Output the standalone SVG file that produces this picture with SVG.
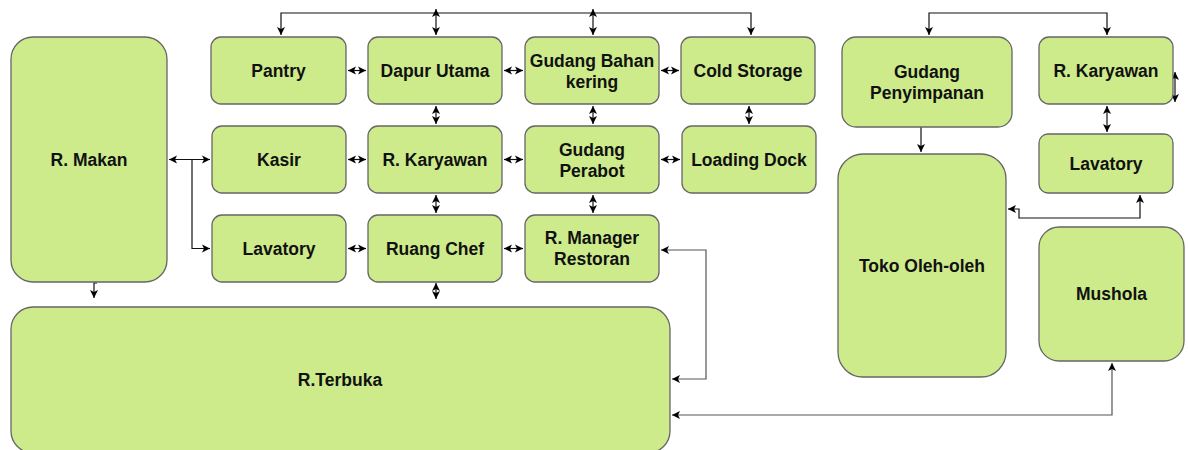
<svg xmlns="http://www.w3.org/2000/svg" width="1188" height="450" viewBox="0 0 1188 450">
<style>
.n{fill:#cdeb8b;stroke:#666;stroke-width:1.3}
.t{font-family:"Liberation Sans",Arial,sans-serif;font-weight:bold;font-size:17.5px;fill:#111;text-anchor:middle}
.c{fill:none;stroke:#111;stroke-width:1.2}
.g{fill:none;stroke:#555;stroke-width:1.2}
</style>
<defs>
<marker id="a" markerUnits="userSpaceOnUse" markerWidth="10" markerHeight="10" refX="8" refY="4" orient="auto-start-reverse" viewBox="0 0 10 8">
<path d="M0,0 L8,4 L0,8 L2,4 z" fill="#000"/>
</marker>
</defs>
<rect width="1188" height="450" fill="#fff"/>
<g id="connectors">
<path class="c" d="M281,35 V13 H751 V35" marker-start="url(#a)" marker-end="url(#a)"/>
<path class="c" d="M436,9 V35" marker-start="url(#a)" marker-end="url(#a)"/>
<path class="c" d="M593,9 V35" marker-start="url(#a)" marker-end="url(#a)"/>
<path class="c" d="M348,70.5 H366" marker-start="url(#a)" marker-end="url(#a)"/>
<path class="c" d="M504,70.5 H523" marker-start="url(#a)" marker-end="url(#a)"/>
<path class="c" d="M661,70.5 H679" marker-start="url(#a)" marker-end="url(#a)"/>
<path class="c" d="M348,159.5 H366" marker-start="url(#a)" marker-end="url(#a)"/>
<path class="c" d="M504,159.5 H523" marker-start="url(#a)" marker-end="url(#a)"/>
<path class="c" d="M661,159.5 H680" marker-start="url(#a)" marker-end="url(#a)"/>
<path class="c" d="M348,248.5 H366" marker-start="url(#a)" marker-end="url(#a)"/>
<path class="c" d="M504,248.5 H523" marker-start="url(#a)" marker-end="url(#a)"/>
<path class="c" d="M436,106 V124" marker-start="url(#a)" marker-end="url(#a)"/>
<path class="c" d="M593,106 V124" marker-start="url(#a)" marker-end="url(#a)"/>
<path class="c" d="M749,106 V124" marker-start="url(#a)" marker-end="url(#a)"/>
<path class="c" d="M436,195 V213" marker-start="url(#a)" marker-end="url(#a)"/>
<path class="c" d="M593,195 V213" marker-start="url(#a)" marker-end="url(#a)"/>
<path class="c" d="M436,283 V299" marker-start="url(#a)" marker-end="url(#a)"/>
<path class="c" d="M169,159.5 H210" marker-start="url(#a)" marker-end="url(#a)"/>
<path class="c" d="M192,159.5 V248.5 H210" marker-end="url(#a)"/>
<path class="c" d="M97,283 H94 V298" marker-end="url(#a)"/>
<path class="g" d="M672,379 H706 V250 H661" marker-start="url(#a)" marker-end="url(#a)"/>
<path class="g" d="M672,415 H1112 V363" marker-start="url(#a)" marker-end="url(#a)"/>
<path class="c" d="M929,35 V13 H1107 V35" marker-start="url(#a)" marker-end="url(#a)"/>
<path class="c" d="M1107,106 V132" marker-start="url(#a)" marker-end="url(#a)"/>
<path class="c" d="M1175,72 V102" marker-start="url(#a)" marker-end="url(#a)"/>
<path class="c" d="M921,127 V152" marker-end="url(#a)"/>
<path class="c" d="M1008,209 H1019 V218 H1140 V195" marker-start="url(#a)" marker-end="url(#a)"/>
</g>
<g id="rmakan"><rect class="n" x="11" y="37" width="156" height="245" rx="22"/><text class="t" x="89" y="165.5">R. Makan</text></g>
<g id="pantry"><rect class="n" x="211" y="37" width="135" height="67" rx="10"/><text class="t" x="278.5" y="76.5">Pantry</text></g>
<g id="dapur"><rect class="n" x="368" y="37" width="134" height="67" rx="10"/><text class="t" x="435" y="76.5">Dapur Utama</text></g>
<g id="gudangbahan"><rect class="n" x="525" y="37" width="134" height="67" rx="10"/><text class="t" x="592" y="67">Gudang Bahan</text><text class="t" x="592" y="88">kering</text></g>
<g id="coldstorage"><rect class="n" x="681" y="37" width="134" height="67" rx="10"/><text class="t" x="748" y="76.5">Cold Storage</text></g>
<g id="kasir"><rect class="n" x="212" y="126" width="134" height="67" rx="10"/><text class="t" x="279" y="165.5">Kasir</text></g>
<g id="rkaryawan"><rect class="n" x="368" y="126" width="134" height="67" rx="10"/><text class="t" x="435" y="165.5">R. Karyawan</text></g>
<g id="gudangperabot"><rect class="n" x="525" y="126" width="134" height="67" rx="10"/><text class="t" x="592" y="156">Gudang</text><text class="t" x="592" y="177">Perabot</text></g>
<g id="loadingdock"><rect class="n" x="682" y="126" width="134" height="67" rx="10"/><text class="t" x="749" y="165.5">Loading Dock</text></g>
<g id="lavatory"><rect class="n" x="212" y="215" width="134" height="67" rx="10"/><text class="t" x="279" y="254.5">Lavatory</text></g>
<g id="ruangchef"><rect class="n" x="368" y="215" width="134" height="67" rx="10"/><text class="t" x="435" y="254.5">Ruang Chef</text></g>
<g id="rmanager"><rect class="n" x="525" y="215" width="134" height="67" rx="10"/><text class="t" x="592" y="244">R. Manager</text><text class="t" x="592" y="265">Restoran</text></g>
<g id="rterbuka"><rect class="n" x="11" y="307" width="659" height="146" rx="22"/><text class="t" x="340" y="386">R.Terbuka</text></g>
<g id="gudangpenyimpanan"><rect class="n" x="842" y="37" width="170" height="90" rx="14"/><text class="t" x="927" y="78">Gudang</text><text class="t" x="927" y="99">Penyimpanan</text></g>
<g id="rkaryawan2"><rect class="n" x="1039" y="37" width="134" height="67" rx="10"/><text class="t" x="1106" y="76.5">R. Karyawan</text></g>
<g id="lavatory2"><rect class="n" x="1039" y="134" width="134" height="59" rx="9"/><text class="t" x="1106" y="169.5">Lavatory</text></g>
<g id="toko"><rect class="n" x="838" y="154" width="168" height="223" rx="25"/><text class="t" x="922" y="271.5">Toko Oleh-oleh</text></g>
<g id="mushola"><rect class="n" x="1039" y="227" width="145" height="134" rx="20"/><text class="t" x="1111.5" y="300">Mushola</text></g>
</svg>
